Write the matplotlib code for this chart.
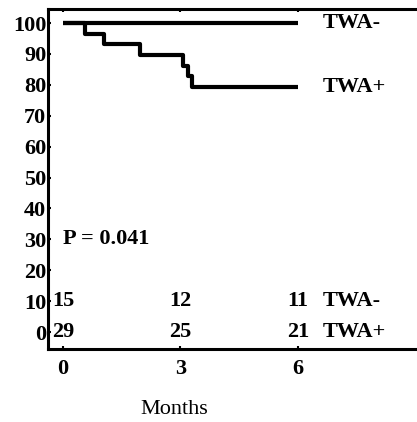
import matplotlib
matplotlib.use('Agg')
import matplotlib.pyplot as plt
import numpy as np

# survival curves (percent event-free)
t_neg = [0, 6]
s_neg = [100, 100]

t_pos = [0, 0.57, 1.05, 1.96, 3.07, 3.20, 3.30, 6]
s_pos = [100, 96.55, 93.10, 89.66, 86.21, 82.76, 79.31, 79.31]

# numbers at risk
risk_times = [0, 3, 6]
risk_neg = [15, 12, 11]
risk_pos = [29, 25, 21]

p_text = 'P = 0.041'

plt.rcParams['font.family'] = ['Liberation Serif', 'DejaVu Serif']

fig = plt.figure(figsize=(4.17, 4.22), dpi=100)
ax = fig.add_axes([0.114, 0.173, 0.886, 0.806])

ax.step(t_neg, s_neg, where='post', color='black', lw=3, solid_capstyle='butt')
ax.step(t_pos, s_pos, where='post', color='black', lw=3, solid_capstyle='butt')

fs = 16
ax.text(6.64, s_neg[-1], 'TWA-', fontsize=fs, fontweight='bold', va='center', ha='left')
ax.text(6.64, s_pos[-1], 'TWA+', fontsize=fs, fontweight='bold', va='center', ha='left')

for t, n1, n2 in zip(risk_times, risk_neg, risk_pos):
    ax.text(t, 10, str(n1), fontsize=fs, fontweight='bold', va='center', ha='center')
    ax.text(t, 0, str(n2), fontsize=fs, fontweight='bold', va='center', ha='center')
ax.text(6.64, 10, 'TWA-', fontsize=fs, fontweight='bold', va='center', ha='left')
ax.text(6.64, 0, 'TWA+', fontsize=fs, fontweight='bold', va='center', ha='left')

ax.text(0, 30, p_text, fontsize=fs, fontweight='bold', va='center', ha='left')

ax.text(2.85, -25.2, 'Months', fontsize=fs, va='center', ha='center', clip_on=False)

ax.set_xlim(-0.4, 9.05)
ax.set_ylim(-5.5, 104.6)
ax.set_xticks([0, 3, 6])
ax.set_yticks(np.arange(0, 101, 10))

ax.spines['right'].set_visible(False)
for s in ['left', 'bottom', 'top']:
    ax.spines[s].set_linewidth(2.2)

ax.tick_params(axis='both', direction='in', length=2.5, width=1.5, labelsize=fs)
ax.tick_params(axis='x', top=True, pad=7)
ax.tick_params(axis='y', pad=1)
for lab in ax.get_xticklabels() + ax.get_yticklabels():
    lab.set_fontweight('bold')

fig.savefig('out.png', dpi=100)
